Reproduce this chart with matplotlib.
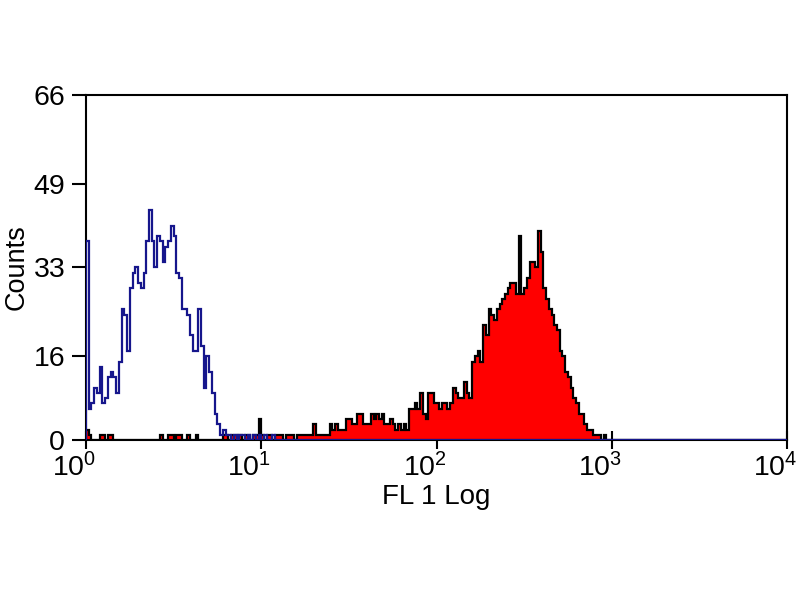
import numpy as np
import matplotlib
matplotlib.use('Agg')
import matplotlib.pyplot as plt
from matplotlib.transforms import ScaledTranslation

#===============================================================================
# Histogram data (256 channels over 4 log decades)
#===============================================================================
n_channels = 256
decades = 4

# unstained control, channels 0..69 (rest zero)
control_counts = [38, 6, 7, 10, 9, 14, 7, 8, 12, 13,
                  12, 9, 15, 25, 24, 17, 29, 32, 33, 30,
                  29, 32, 38, 44, 38, 33, 39, 38, 34, 37,
                  38, 41, 39, 32, 31, 25, 25, 24, 20, 17,
                  17, 25, 18, 10, 16, 13, 9, 5, 3, 1,
                  2, 1, 1, 0, 1, 0, 1, 1, 0, 1,
                  0, 1, 0, 1, 0, 1, 0, 0, 1, 0]

# stained sample, channels 0..191 (rest zero)
stained_counts = [2, 1, 0, 0, 0, 1, 1, 0, 1, 1,
                  0, 0, 0, 0, 0, 0, 0, 0, 0, 0,
                  0, 0, 0, 0, 0, 0, 0, 1, 0, 0,
                  1, 1, 0, 1, 1, 0, 0, 1, 0, 0,
                  1, 0, 0, 0, 0, 0, 0, 0, 0, 0,
                  1, 1, 0, 1, 1, 0, 1, 0, 1, 1,
                  0, 1, 1, 4, 1, 0, 1, 1, 0, 1,
                  1, 1, 0, 1, 1, 1, 0, 1, 1, 1,
                  1, 1, 1, 3, 1, 1, 1, 1, 1, 3,
                  2, 3, 2, 2, 2, 4, 4, 3, 3, 5,
                  5, 3, 3, 3, 5, 4, 5, 4, 5, 3,
                  3, 4, 3, 2, 3, 2, 3, 2, 6, 6,
                  7, 6, 9, 5, 4, 9, 9, 7, 7, 6,
                  7, 7, 6, 7, 10, 9, 8, 8, 11, 9,
                  8, 15, 16, 17, 15, 22, 20, 25, 24, 23,
                  25, 26, 27, 28, 29, 30, 30, 28, 39, 28,
                  29, 31, 34, 34, 33, 40, 36, 29, 27, 25,
                  24, 22, 21, 17, 16, 13, 12, 10, 8, 7,
                  5, 5, 3, 2, 2, 1, 1, 1, 0, 1,
                  0, 0]

y_ticks = [0, 16, 33, 49, 66]
x_ticks = [1, 10, 100, 1000, 10000]

#===============================================================================
# Plot
#===============================================================================
plt.rcParams['font.family'] = ['Liberation Sans', 'DejaVu Sans']

edges = 10 ** (decades * np.arange(n_channels + 1) / n_channels)
control = np.zeros(n_channels)
control[:len(control_counts)] = control_counts
stained = np.zeros(n_channels)
stained[:len(stained_counts)] = stained_counts

fig = plt.figure(figsize=(8, 6), dpi=100)
ax = fig.add_axes([0.1075, 0.2667, 0.8763, 0.5750])

ax.stairs(stained, edges, fill=True, color='#ff0000', zorder=2)
ax.stairs(stained, edges, color='black', linewidth=1.6, zorder=3)
ax.stairs(control, edges, color='#16168c', linewidth=1.6, zorder=4)

ax.set_xscale('log')
ax.set_xlim(1, 10000)
ax.set_ylim(0, 66)
ax.set_xticks(x_ticks)
ax.set_yticks(y_ticks)
ax.minorticks_off()

for s in ax.spines.values():
    s.set_linewidth(1.5)
ax.tick_params(axis='x', direction='inout', length=13, width=1.5, labelsize=20.5, pad=3)
ax.tick_params(axis='y', direction='out', length=10, width=1.5, labelsize=20.5, pad=5)

# shift x tick labels so the base sits left of the tick like the reference
offset = ScaledTranslation(-12 / 100, 0, fig.dpi_scale_trans)
for lab in ax.get_xticklabels():
    lab.set_transform(lab.get_transform() + offset)

ax.set_xlabel('FL 1 Log', fontsize=20, labelpad=1)
ax.set_ylabel('Counts', fontsize=19.5, labelpad=3)

plt.savefig('out.png', dpi=100, facecolor='white')
